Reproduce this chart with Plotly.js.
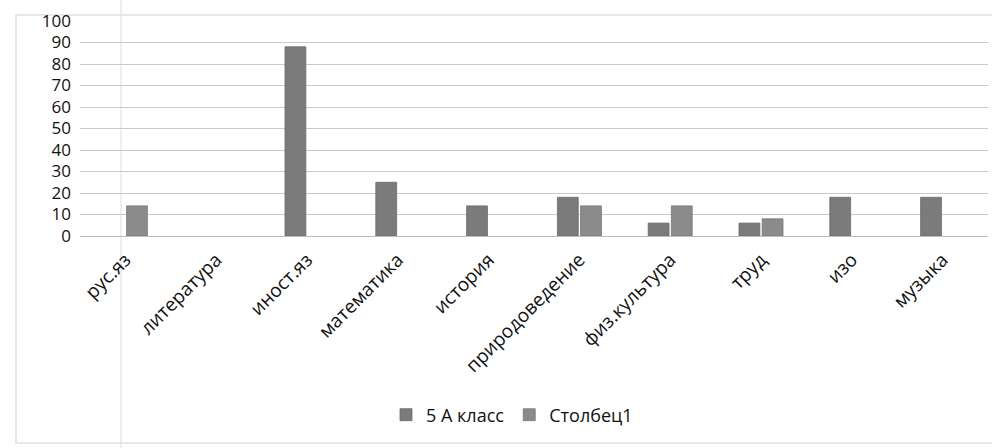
<!DOCTYPE html>
<html>
<head>
<meta charset="utf-8">
<script src="https://cdn.plot.ly/plotly-3.0.1.min.js"></script>
<style>html,body{margin:0;padding:0;background:#fff;}#chart{width:992px;height:448px;}</style>
</head>
<body>
<div id="chart"></div>
<script>
const categories = ["рус.яз", "литература", "иност.яз", "математика", "история", "природоведение", "физ.культура", "труд", "изо", "музыка"];
const series1Name = "5 А класс";
const series1 = [null, null, 88, 25, 14, 18, 6, 6, 18, 18];
const series2Name = "Столбец1";
const series2 = [14, null, null, null, null, 14, 14, 8, null, null];
const yTicks = [0, 10, 20, 30, 40, 50, 60, 70, 80, 90, 100];

const W = 992, H = 448, L = 80, R = 4, T = 21, B = 212;
const pw = W - L - R, ph = H - T - B;
const px = v => (v - L) / pw;
const py = v => (H - B - v) / ph;

const traces = [
  {type: "bar", name: series1Name, x: categories, y: series1,
   marker: {color: "#7b7b7b", line: {color: "#6a6a6a", width: 0.8}}},
  {type: "bar", name: series2Name, x: categories, y: series2,
   marker: {color: "#8b8b8b", line: {color: "#777777", width: 0.8}}}
];

const layout = {
  width: W, height: H,
  margin: {l: L, r: R, t: T, b: B},
  paper_bgcolor: "#ffffff", plot_bgcolor: "#ffffff",
  font: {family: "Open Sans, DejaVu Sans, sans-serif", color: "#111111"},
  barmode: "group", bargap: 0.49, bargroupgap: 0.1,
  showlegend: true,
  legend: {orientation: "h", x: 512 / W, xref: "container", xanchor: "center",
           y: 1 - 415 / H, yref: "container", yanchor: "middle",
           font: {size: 18, color: "#111111"}, traceorder: "normal",
           itemwidth: 30, bgcolor: "rgba(0,0,0,0)"},
  xaxis: {type: "category", categoryarray: categories, tickangle: -45,
          tickfont: {size: 19, color: "#111111"}, showgrid: false,
          showline: false, ticks: "", zeroline: false, ticklabelstandoff: 8, fixedrange: true},
  yaxis: {range: [0, 100], tickvals: yTicks, ticktext: yTicks.map(String),
          tickfont: {size: 17, color: "#111111"}, showgrid: true,
          gridcolor: "#c9c9c9", gridwidth: 1, zeroline: true, zerolinecolor: "#bdbdbd",
          zerolinewidth: 1, showline: false, ticks: "", ticklabelstandoff: 8, fixedrange: true},
  shapes: [
    {type: "rect", xref: "paper", yref: "paper", x0: px(16), x1: px(1000), y0: py(443), y1: py(15),
     line: {color: "#d2d2d2", width: 1.2}, fillcolor: "rgba(0,0,0,0)", layer: "below"},
    {type: "line", xref: "paper", yref: "paper", x0: px(121), x1: px(121), y0: py(448), y1: py(0),
     line: {color: "#dcdcdc", width: 1}, layer: "below"}
  ]
};

Plotly.newPlot("chart", traces, layout, {displayModeBar: false, staticPlot: true});
</script>
</body>
</html>
